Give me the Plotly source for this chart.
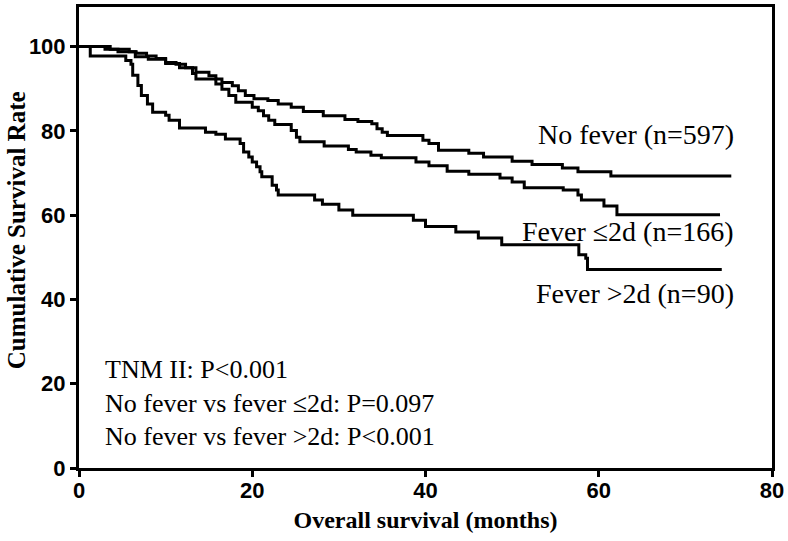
import plotly.graph_objects as go

# Kaplan-Meier step data (months, % surviving)
t_nofever = [0, 3.6, 5.8, 6.6, 7.8, 8.9, 10.0, 11.2, 12.3, 13.5, 15.0, 15.8, 16.5, 17.7, 18.4,
             19.2, 20.2, 21.8, 23.0, 24.5, 25.9, 28.2, 30.7, 32.2, 33.8, 34.4, 35.0, 35.6, 39.7,
             40.4, 41.5, 45.0, 46.7, 50.0, 52.3, 55.8, 57.6, 61.4, 75.3]
s_nofever = [100, 99.4, 98.8, 98.4, 97.8, 97.2, 96.2, 95.8, 95.0, 93.9, 93.1, 92.3, 91.5, 90.7, 89.5,
             88.4, 87.6, 87.2, 86.4, 85.6, 84.6, 83.6, 82.7, 82.2, 81.7, 80.5, 79.7, 78.9, 77.8,
             77.0, 75.4, 74.7, 73.8, 72.8, 72.0, 71.2, 70.3, 69.3, 69.3]

t_fever2 = [0, 3.0, 4.5, 6.5, 8.0, 10.0, 11.6, 13.1, 13.5, 15.8, 16.5, 17.3, 18.1, 20.0, 20.7,
            21.3, 21.9, 22.6, 24.5, 25.1, 25.5, 28.3, 31.1, 32.0, 33.7, 34.9, 38.9, 40.4, 42.5,
            45.0, 48.6, 50.0, 51.4, 55.9, 57.6, 58.0, 60.6, 62.1, 74.0]
s_fever2 = [100, 99.4, 98.8, 97.6, 97.0, 96.0, 95.0, 93.6, 92.3, 91.1, 89.9, 88.4, 86.8, 85.6, 84.8,
            83.6, 82.5, 81.5, 80.1, 78.5, 77.4, 76.4, 75.6, 75.0, 74.2, 73.6, 72.6, 71.7, 70.4,
            69.7, 68.8, 67.9, 66.5, 66.0, 64.8, 63.6, 62.2, 60.1, 60.1]

t_fever3 = [0, 1.3, 5.4, 6.0, 6.2, 6.8, 7.2, 7.9, 8.5, 10.0, 10.4, 11.6, 14.6, 15.8, 16.9, 18.6,
            19.0, 19.6, 20.0, 20.5, 20.9, 21.1, 22.3, 22.8, 23.0, 27.2, 28.1, 30.0, 31.6, 38.6,
            40.0, 43.5, 46.1, 48.8, 57.7, 58.5, 58.7, 74.2]
s_fever3 = [100, 97.8, 96.7, 95.8, 93.2, 90.8, 88.4, 86.4, 84.4, 83.7, 82.5, 80.7, 79.7, 79.2, 78.1, 77.0,
            75.0, 73.8, 72.6, 71.5, 70.3, 69.1, 67.1, 66.0, 64.8, 63.6, 62.6, 61.2, 60.0, 58.8,
            57.3, 56.0, 54.6, 53.0, 50.6, 49.8, 47.1, 47.1]

x_ticks = [0, 20, 40, 60, 80]
y_ticks = [0, 20, 40, 60, 80, 100]

serif = "Liberation Serif, Times New Roman, serif"
sans = "Liberation Sans, Arial, sans-serif"

fig = go.Figure()
for t, s in [(t_nofever, s_nofever), (t_fever2, s_fever2), (t_fever3, s_fever3)]:
    fig.add_trace(go.Scatter(x=t, y=s, mode="lines", line=dict(color="black", width=3, shape="hv"),
                             showlegend=False, hoverinfo="skip"))

labels = [
    (75.8, 79.2, "No fever (n=597)"),
    (75.8, 56.1, "Fever ≤2d (n=166)"),
    (75.8, 41.3, "Fever >2d (n=90)"),
]
for x, y, txt in labels:
    fig.add_annotation(x=x, y=y, text=txt, showarrow=False, xanchor="right", yanchor="middle",
                       font=dict(family=serif, size=28, color="black"))

stats = ["TNM II: P<0.001", "No fever vs fever ≤2d: P=0.097", "No fever vs fever >2d: P<0.001"]
for i, txt in enumerate(stats):
    fig.add_annotation(x=2.8, y=23.3 - i * 7.95, text=txt, showarrow=False, xanchor="left", yanchor="middle",
                       font=dict(family=serif, size=26, color="black"))

# y title placed by hand so it sits a little above the plot's centre, as in the original
fig.add_annotation(x=-0.09, y=0.515, xref="paper", yref="paper", text="<b>Cumulative Survival Rate</b>",
                   textangle=-90, showarrow=False, xanchor="center", yanchor="middle",
                   font=dict(family=serif, size=25, color="black"))

fig.update_xaxes(range=[0, 80], tickvals=x_ticks, showline=True, linecolor="black", linewidth=3,
                 mirror=True, ticks="outside", ticklen=6, tickwidth=3, tickcolor="black",
                 showgrid=False, zeroline=False, ticklabeloverflow="allow", ticklabelstandoff=-5,
                 tickfont=dict(family=sans, size=22, color="black", weight="bold"),
                 title=dict(text="<b>Overall survival (months)</b>", standoff=9,
                            font=dict(family=serif, size=24, color="black")))
fig.update_yaxes(range=[0, 109.4], tickvals=y_ticks, showline=True, linecolor="black", linewidth=3,
                 mirror=True, ticks="outside", ticklen=6, tickwidth=3, tickcolor="black",
                 showgrid=False, zeroline=False,
                 tickfont=dict(family=sans, size=22, color="black", weight="bold"))

fig.update_layout(width=788, height=541, margin=dict(l=79, r=11, t=4, b=73),
                  plot_bgcolor="white", paper_bgcolor="white")

# the page's default body margin would push the figure 8px off
fig.write_html("out.html", config={"displayModeBar": False},
               post_script="document.body.style.margin='0px';")
